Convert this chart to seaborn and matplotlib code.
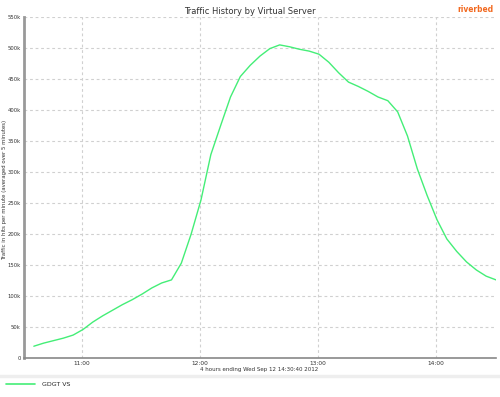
import numpy as np
import pandas as pd
import matplotlib
matplotlib.use("Agg")
import matplotlib.pyplot as plt
from matplotlib.lines import Line2D
import seaborn as sns

# ---- data ----
start_time = "2012-09-12 10:35:40"
end_time = "2012-09-12 14:30:40"
range_start = "2012-09-12 10:30:40"
traffic_k = [19, 24, 28, 32, 37, 46, 58, 68, 77, 86, 94, 103, 113, 121, 126,
             153, 200, 255, 328, 375, 421, 454, 472, 487, 499, 505, 502, 498,
             495, 490, 477, 460, 445, 438, 430, 421, 415, 397, 358, 305, 262,
             223, 192, 172, 155, 142, 132, 126]
series_name = "GDGT VS"
title = "Traffic History by Virtual Server"
xlabel = "4 hours ending Wed Sep 12 14:30:40 2012"
ylabel = "Traffic in hits per minute (averaged over 5 minutes)"
yticks_k = [0, 50, 100, 150, 200, 250, 300, 350, 400, 450, 500, 550]
ytick_labels = ["0"] + [f"{v}k" for v in yticks_k[1:]]
xtick_times = ["2012-09-12 11:00", "2012-09-12 12:00", "2012-09-12 13:00", "2012-09-12 14:00"]
xtick_labels = ["11:00", "12:00", "13:00", "14:00"]

times = pd.date_range(start_time, end_time, freq="5min")
df = pd.DataFrame({"time": times, "traffic": np.array(traffic_k) * 1000, "series": series_name})

sns.set_theme(style="white")
plt.rcParams["font.family"] = ["DejaVu Sans"]

W, H = 500, 397
line_color = "#44ee77"
fig = plt.figure(figsize=(W / 100, H / 100), dpi=100)
ax = fig.add_axes([24 / W, 1 - 358 / H, 472 / W, 341 / H])

sns.lineplot(data=df, x="time", y="traffic", ax=ax, color=line_color, linewidth=1.0, legend=False)

ax.set_xlim(pd.Timestamp(range_start), pd.Timestamp(end_time))
ax.set_ylim(0, 550000)
ax.set_yticks([v * 1000 for v in yticks_k])
ax.set_yticklabels(ytick_labels, fontsize=3.8, color="#333333")
ax.set_xticks([pd.Timestamp(t) for t in xtick_times])
ax.set_xticklabels(xtick_labels, fontsize=4.2, color="#333333")

ax.grid(True, linestyle=(0, (2.5, 2.5)), color="#d0d0d0", linewidth=0.8)
for s in ["top", "right"]:
    ax.spines[s].set_visible(False)
ax.spines["left"].set_color("#999999")
ax.spines["left"].set_linewidth(2.0)
ax.spines["bottom"].set_color("#888888")
ax.spines["bottom"].set_linewidth(1.2)
ax.tick_params(axis="both", length=1.5, width=0.6, color="#999999", pad=1.0)
ax.set_xlabel("")
ax.set_ylabel("")

fig.text(259 / W, 1 - 369.5 / H, xlabel, ha="center", va="center", fontsize=4.0, color="#333333")
fig.text(5 / W, 1 - 190 / H, ylabel, ha="center", va="center", rotation=90, fontsize=3.9, color="#333333")
fig.text(250 / W, 1 - 11 / H, title, ha="center", va="center", fontsize=6, color="#333333")

fig.text(494 / W, 1 - 9 / H, "riverbed", ha="right", va="center", fontsize=6,
         color="#f26a21", fontweight="bold", fontstretch="condensed")

# legend separator
fig.add_artist(Line2D([0, 1], [1 - 376 / H, 1 - 376 / H], color="#eeeeee", linewidth=2.5,
                      transform=fig.transFigure))
fig.legend(handles=[Line2D([], [], color=line_color, linewidth=1.2)], labels=[series_name],
           loc="center left", bbox_to_anchor=(6 / W, 1 - 384 / H), frameon=False, fontsize=4.5,
           handlelength=4.6, handletextpad=1.1, borderaxespad=0.0, borderpad=0.0)

fig.savefig("out.png", dpi=100)
